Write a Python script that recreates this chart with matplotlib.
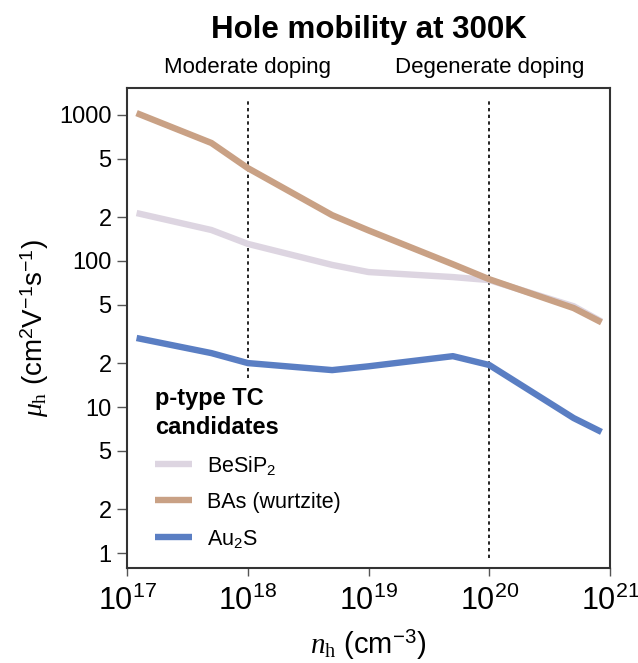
import numpy as np
import matplotlib
matplotlib.use("Agg")
import matplotlib.pyplot as plt
import matplotlib.transforms as mtransforms

plt.rcParams['font.family'] = ['Liberation Sans', 'DejaVu Sans']
plt.rcParams['mathtext.fontset'] = 'custom'
plt.rcParams['mathtext.rm'] = 'Liberation Serif'
plt.rcParams['mathtext.it'] = 'Liberation Serif:italic'
plt.rcParams['mathtext.sf'] = 'Liberation Sans'

# hole concentration (cm^-3)
n_h = [1.2e17, 5e17, 1e18, 5e18, 1e19, 5e19, 1e20, 5e20, 8.5e20]
# mobility (cm2/Vs)
mu_besip2 = [213, 163, 131, 94, 84, 77.6, 74, 49, 38.5]
mu_bas = [1030, 643, 433, 206, 162, 95, 75, 47.6, 38]
mu_au2s = [29.7, 23.4, 20, 17.9, 19, 22.3, 19.4, 8.4, 6.75]

names = ['BeSiP$_{\\mathsf{2}}$', 'BAs (wurtzite)', 'Au$_{\\mathsf{2}}$S']
colors = ['#ddd5e1', '#c9a185', '#5a7ec3']

y_ticks = [1, 2, 5, 10, 20, 50, 100, 200, 500, 1000]
y_labels = ['1', '2', '5', '10', '2', '5', '100', '2', '5', '1000']

fig = plt.figure(figsize=(6.38, 6.63), dpi=100)
ax = fig.add_axes([127/638, 95/663, 483/638, 480/663])

for vals, lab, c in zip([mu_besip2, mu_bas, mu_au2s], names, colors):
    ax.plot(n_h, vals, color=c, lw=4.6, label=lab, solid_capstyle='butt')

ax.set_xscale('log')
ax.set_yscale('log')
ax.set_xlim(1e17, 1e21)
ax.set_ylim(0.79, 1530)

for xv in [1e18, 1e20]:
    ax.axvline(xv, ymin=0.02, ymax=0.98, color='black', lw=1.2, ls=(0, (2, 2)), zorder=1)

ax.set_xticks([1e17, 1e18, 1e19, 1e20, 1e21])
ax.xaxis.set_minor_locator(matplotlib.ticker.NullLocator())
ax.set_yticks(y_ticks)
ax.set_yticklabels(y_labels)
ax.yaxis.set_minor_locator(matplotlib.ticker.NullLocator())
ax.tick_params(axis='x', labelsize=22, length=6, width=1, color='#555555', pad=7)
ax.tick_params(axis='y', labelsize=17, length=7, width=1, color='#555555', pad=4)

for sp in ax.spines.values():
    sp.set_color('#333333')
    sp.set_linewidth(1.5)

ax.set_xlabel('$n_{\\mathrm{h}}$ (cm$^{\\mathsf{-3}}$)', fontsize=21, labelpad=8)
ax.set_ylabel('$\\mu_{\\mathrm{h}}$ (cm$^{\\mathsf{2}}$V$^{\\mathsf{-1}}$s$^{\\mathsf{-1}}$)',
              fontsize=20, labelpad=6)

trans = mtransforms.blended_transform_factory(ax.transData, ax.transAxes)
ax.text(1e18, 1.02, 'Moderate doping', transform=trans, ha='center', va='bottom', fontsize=16)
ax.text(1e20, 1.02, 'Degenerate doping', transform=trans, ha='center', va='bottom', fontsize=16)
ax.set_title('Hole mobility at 300K', fontsize=22.5, fontweight='bold', pad=36)

leg = ax.legend(loc='lower left', bbox_to_anchor=(0.04, 0.02), frameon=True,
                title='p-type TC\ncandidates', fontsize=15.5, borderpad=0.4,
                borderaxespad=0, handlelength=1.7, handletextpad=0.7,
                labelspacing=0.7, alignment='left', fancybox=False)
leg.get_frame().set_facecolor('white')
leg.get_frame().set_edgecolor('none')
leg.get_frame().set_alpha(1)
leg.get_title().set_fontsize(17)
leg.get_title().set_fontweight('bold')
leg.get_title().set_linespacing(1.3)

fig.savefig('out.png', dpi=100)
